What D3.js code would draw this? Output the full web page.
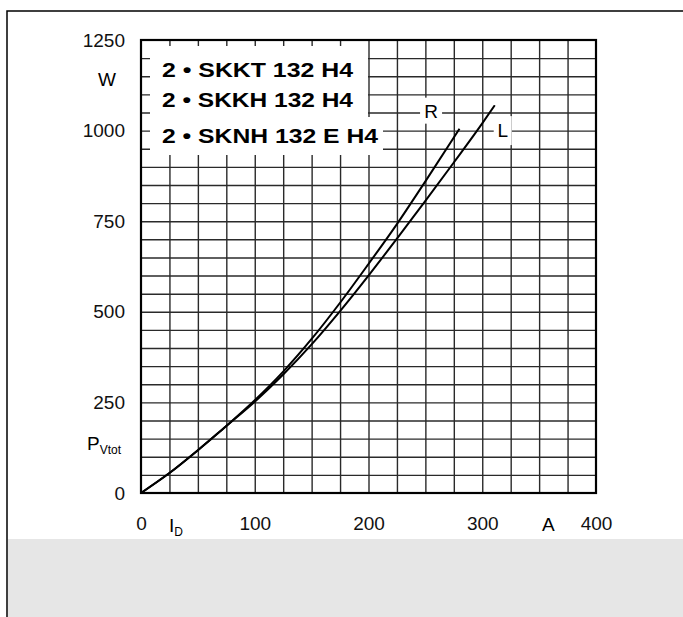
<!DOCTYPE html>
<html>
<head>
<meta charset="utf-8">
<script src="https://cdn.jsdelivr.net/npm/d3@7"></script>
<style>
    body { margin: 0; background: #fff; }
    svg { display: block; font-family: "Liberation Sans", Arial, sans-serif; }
</style>
</head>
<body>
<script>
// Total power loss P_Vtot vs. current I_D
var currentR = [0, 25, 50, 75, 100, 125, 150, 175, 200, 225, 250, 280];
var powerR = [0, 55, 118, 185, 256, 335, 425, 525, 632, 742, 860, 1005];

var currentL = [0, 25, 50, 75, 100, 125, 150, 175, 200, 225, 250, 275, 300,
    311];
var powerL = [0, 55, 118, 185, 252, 327, 410, 502, 600, 702, 806, 912, 1020,
    1070];

var xTicks = [0, 100, 200, 300, 400];
var yTicks = [0, 250, 500, 750, 1000, 1250];
var legendLines = ["2 \u2022 SKKT 132 H4", "2 \u2022 SKKH 132 H4",
    "2 \u2022 SKNH 132 E H4"];

// Plot box inside the 683 x 617 page
var margin = {top: 40, right: 87, bottom: 124, left: 141},
    width = 683 - margin.left - margin.right,
    height = 617 - margin.top - margin.bottom;

var page = d3.select("body").append("svg")
    .attr("width", 683)
    .attr("height", 617);

// grey band at the bottom and the frame lines
page.append("rect")
    .attr("x", 8).attr("y", 539)
    .attr("width", 675).attr("height", 78)
    .attr("fill", "#e6e6e6");
page.append("path")
    .attr("d", "M7,617V11H683")
    .attr("fill", "none")
    .attr("stroke", "#000")
    .attr("stroke-width", 1.5);

var svg = page.append("g")
    .attr("transform", "translate(" + margin.left + "," + margin.top + ")");

var xScale = d3.scaleLinear().domain([0, 400]).range([0, width]);
var yScale = d3.scaleLinear().domain([0, 1250]).range([height, 0]);

// Grid: every 25 A and every 50 W
svg.append("g")
    .attr("class", "grid")
    .attr("transform", "translate(0," + height + ")")
    .call(d3.axisBottom(xScale).tickValues(d3.range(25, 400, 25))
        .tickSize(-height).tickFormat(""));
svg.append("g")
    .attr("class", "grid")
    .call(d3.axisLeft(yScale).tickValues(d3.range(50, 1250, 50))
        .tickSize(-width).tickFormat(""));
svg.selectAll(".grid .domain").remove();
svg.selectAll(".grid line")
    .attr("stroke", "#2a2a2a")
    .attr("stroke-width", 1.4);

// White boxes that hide the grid under the type legend
svg.append("path")
    .attr("d", "M9,6H227V77H242V115H9Z")
    .attr("fill", "#fff");

svg.selectAll(".legend")
    .data(legendLines)
    .enter()
    .append("text")
    .attr("class", "legend")
    .attr("x", 21)
    .attr("y", function(d, i) { return [37, 67, 103][i]; })
    .attr("font-size", "20px")
    .attr("font-weight", "bold")
    .attr("textLength", function(d, i) { return i < 2 ? 191 : 216; })
    .attr("lengthAdjust", "spacingAndGlyphs")
    .text(function(d) { return d; });

// Curves R and L
var line = d3.line()
    .x(function(d) { return xScale(d[0]); })
    .y(function(d) { return yScale(d[1]); })
    .curve(d3.curveMonotoneX);

svg.append("path")
    .datum(d3.zip(currentR, powerR))
    .attr("d", line)
    .attr("fill", "none")
    .attr("stroke", "#000")
    .attr("stroke-width", 2);

svg.append("path")
    .datum(d3.zip(currentL, powerL))
    .attr("d", line)
    .attr("fill", "none")
    .attr("stroke", "#000")
    .attr("stroke-width", 2);

// Curve labels with a white patch behind them
var curveLabels = [
    {name: "R", x: 255, y: 1055, w: 22, h: 26},
    {name: "L", x: 318, y: 1000, w: 18, h: 29}
];
svg.selectAll(".clabel-bg")
    .data(curveLabels)
    .enter()
    .append("rect")
    .attr("x", function(d) { return xScale(d.x) - d.w / 2; })
    .attr("y", function(d) { return yScale(d.y) - d.h / 2; })
    .attr("width", function(d) { return d.w; })
    .attr("height", function(d) { return d.h; })
    .attr("fill", "#fff");
svg.selectAll(".clabel")
    .data(curveLabels)
    .enter()
    .append("text")
    .attr("x", function(d) { return xScale(d.x); })
    .attr("y", function(d) { return yScale(d.y); })
    .attr("dy", "0.36em")
    .attr("text-anchor", "middle")
    .attr("font-size", "19px")
    .text(function(d) { return d.name; });

// Plot border
svg.append("rect")
    .attr("width", width)
    .attr("height", height)
    .attr("fill", "none")
    .attr("stroke", "#000")
    .attr("stroke-width", 2.2);

// Tick labels
var xAxis = svg.append("g")
    .attr("transform", "translate(0," + height + ")")
    .call(d3.axisBottom(xScale).tickValues(xTicks).tickSize(0)
        .tickPadding(24).tickFormat(d3.format("d")));
var yAxis = svg.append("g")
    .call(d3.axisLeft(yScale).tickValues(yTicks).tickSize(0)
        .tickPadding(16).tickFormat(d3.format("d")));
[xAxis, yAxis].forEach(function(a) {
    a.select(".domain").remove();
    a.selectAll("text")
        .attr("font-family", "Liberation Sans, Arial, sans-serif")
        .attr("font-size", "19px")
        .attr("fill", "#111");
});

// Axis quantity and unit labels
svg.append("text")
    .attr("x", -34).attr("y", 46)
    .attr("font-size", "19px")
    .attr("text-anchor", "middle")
    .text("W");

var pv = svg.append("text")
    .attr("x", -54).attr("y", 410)
    .attr("font-size", "19px");
pv.append("tspan").text("P");
pv.append("tspan").attr("dy", 4).attr("font-size", "12px").text("Vtot");

var id = svg.append("text")
    .attr("x", 28).attr("y", height + 39)
    .attr("font-size", "19px");
id.append("tspan").text("I");
id.append("tspan").attr("dy", 4).attr("font-size", "12px").text("D");

svg.append("text")
    .attr("x", xScale(358)).attr("y", height + 38)
    .attr("font-size", "19px")
    .attr("text-anchor", "middle")
    .text("A");
</script>
</body>
</html>
